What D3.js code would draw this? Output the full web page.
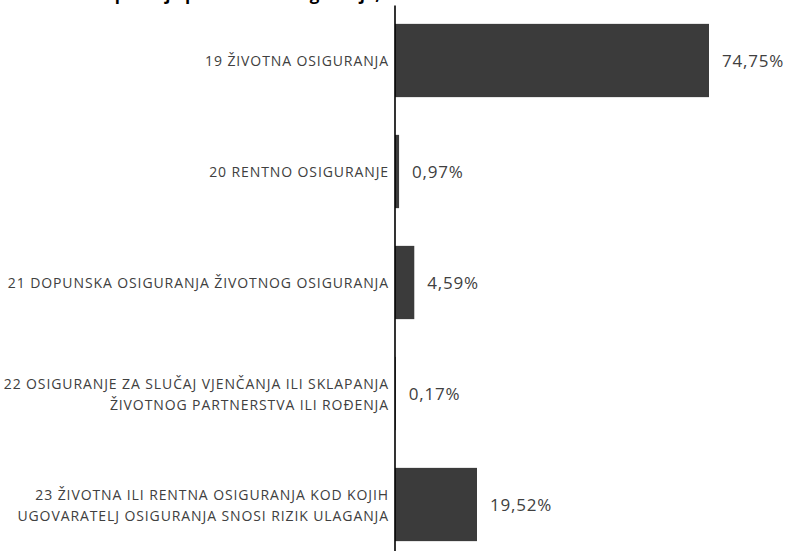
<!DOCTYPE html>
<html lang="hr">
<head>
    <meta charset="UTF-8">
    <title>Životna osiguranja po vrstama</title>
    <script src="https://d3js.org/d3.v7.min.js"></script>
    <style>
        body { margin: 0; background: #fff; }
        svg { display: block; }
    </style>
</head>
<body>
    <svg width="787" height="551"></svg>

    <script>
        // Podaci
        const naslov = "Zaračunata bruto premija po vrstama osiguranja,";
        const kategorije = [
            "19 ŽIVOTNA OSIGURANJA",
            "20 RENTNO OSIGURANJE",
            "21 DOPUNSKA OSIGURANJA ŽIVOTNOG OSIGURANJA",
            "22 OSIGURANJE ZA SLUČAJ VJENČANJA ILI SKLAPANJA\nŽIVOTNOG PARTNERSTVA ILI ROĐENJA",
            "23 ŽIVOTNA ILI RENTNA OSIGURANJA KOD KOJIH\nUGOVARATELJ OSIGURANJA SNOSI RIZIK ULAGANJA"
        ];
        const udjeli = [74.75, 0.97, 4.59, 0.17, 19.52];

        const data = kategorije.map((k, i) => ({ kategorija: k, udio: udjeli[i] }));

        const svg = d3.select("svg");
        const x0 = 395;

        const x = d3.scaleLinear()
            .domain([0, 74.75])
            .range([x0, 709]);

        const y = d3.scaleBand()
            .domain(kategorije)
            .range([5, 560])
            .paddingInner(0.34)
            .paddingOuter(0.17);

        // naslov (odrezan na vrhu)
        svg.append("text")
            .attr("x", 380)
            .attr("y", 0)
            .attr("text-anchor", "end")
            .style("font-family", "'Open Sans', sans-serif")
            .style("font-weight", "bold")
            .style("font-size", "17px")
            .attr("fill", "#000")
            .text(naslov);

        // stupci
        svg.selectAll(".bar")
            .data(data)
            .enter()
            .append("rect")
            .attr("class", "bar")
            .attr("x", x(0))
            .attr("y", d => y(d.kategorija))
            .attr("width", d => x(d.udio) - x(0))
            .attr("height", y.bandwidth())
            .attr("fill", "#3b3b3b");

        // os
        const os = svg.append("g")
            .attr("transform", `translate(${x0 - 0.5},0)`)
            .call(d3.axisLeft(y).tickSize(0).tickFormat(""));
        os.select(".domain").attr("stroke", "#000").attr("stroke-width", 1.6);

        // nazivi kategorija
        const nazivi = svg.selectAll(".naziv")
            .data(data)
            .enter()
            .append("text")
            .attr("class", "naziv")
            .attr("text-anchor", "end")
            .style("font-family", "'Open Sans', sans-serif")
            .style("font-size", "14px")
            .style("letter-spacing", "0.9px")
            .attr("fill", "#404040");

        nazivi.each(function (d) {
            const linije = d.kategorija.split("\n");
            const cy = y(d.kategorija) + y.bandwidth() / 2;
            const t = d3.select(this);
            linije.forEach((l, j) => {
                t.append("tspan")
                    .attr("x", 389)
                    .attr("y", cy + 1 + (j - (linije.length - 1) / 2) * 21.5)
                    .attr("dy", "0.35em")
                    .text(l);
            });
        });

        // vrijednosti
        svg.selectAll(".vrijednost")
            .data(data)
            .enter()
            .append("text")
            .attr("class", "vrijednost")
            .attr("x", d => x(d.udio) + 13)
            .attr("y", d => y(d.kategorija) + y.bandwidth() / 2 + 1)
            .attr("dy", "0.35em")
            .style("font-family", "'Open Sans', sans-serif")
            .style("font-size", "17px")
            .style("letter-spacing", "0.8px")
            .attr("fill", "#404040")
            .text(d => d.udio.toFixed(2).replace(".", ",") + "%");
    </script>
</body>
</html>
